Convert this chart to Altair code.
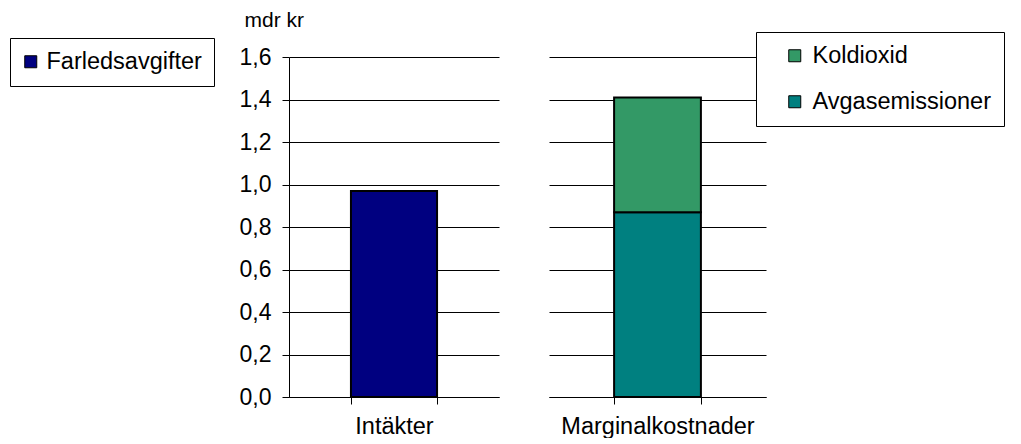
import altair as alt
import pandas as pd

# ---- data ----
left_categories = ["Intäkter"]
left_series = ["Farledsavgifter"]
left_values = [0.97]

right_categories = ["Marginalkostnader", "Marginalkostnader"]
right_series = ["Avgasemissioner", "Koldioxid"]
right_values = [0.87, 0.54]
right_stack_order = [0, 1]
right_legend_order = ["Koldioxid", "Avgasemissioner"]

y_ticks = [0.0, 0.2, 0.4, 0.6, 0.8, 1.0, 1.2, 1.4, 1.6]
y_title = "mdr kr"

colors_left = ["#000080"]
colors_right = ["#339966", "#008080"]

FONT = "Liberation Sans"

left_df = pd.DataFrame({"kategori": left_categories, "serie": left_series, "varde": left_values})
right_df = pd.DataFrame({"kategori": right_categories, "serie": right_series,
                         "varde": right_values, "ordning": right_stack_order})

label_expr = "replace(format(datum.value, '.1f'), '.', ',')"

x_axis = alt.Axis(title=None, labelAngle=0, labelFontSize=23.5, labelFont=FONT, labelColor="black",
                  labelPadding=10, labelLimit=0, tickBand="extent", tickSize=7, tickColor="black",
                  domainColor="black", grid=False)

legend_common = dict(orient="none", title=None, padding=12, strokeColor="black", fillColor="white",
                     symbolType="square", symbolSize=144, symbolStrokeColor="black",
                     symbolStrokeWidth=1, symbolOpacity=1, labelFontSize=23.5, labelFont=FONT,
                     labelColor="black", labelLimit=0)

left = alt.Chart(left_df).mark_bar(stroke="black", strokeWidth=2).encode(
    x=alt.X("kategori:N", scale=alt.Scale(paddingInner=0.59, paddingOuter=0.295), axis=x_axis),
    y=alt.Y("varde:Q", scale=alt.Scale(domain=[0, 1.6], nice=False),
            axis=alt.Axis(values=y_ticks, labelExpr=label_expr, title=y_title, titleAngle=0,
                          titleAlign="left", titleBaseline="alphabetic", titleX=-45, titleY=-31,
                          titleFontSize=21, titleFont=FONT, titleFontWeight="normal",
                          titleColor="black", labelFontSize=23, labelFont=FONT, labelColor="black",
                          labelPadding=11, tickSize=7, tickColor="black", domainColor="black",
                          gridColor="black", gridWidth=1)),
    color=alt.Color("serie:N", scale=alt.Scale(domain=left_series, range=colors_left),
                    legend=alt.Legend(legendX=-279, legendY=-19, symbolOffset=-3, labelOffset=4,
                                      **legend_common)),
).properties(width=210, height=340)

right = alt.Chart(right_df).mark_bar(stroke="black", strokeWidth=2).encode(
    x=alt.X("kategori:N", scale=alt.Scale(paddingInner=0.6, paddingOuter=0.3), axis=x_axis),
    y=alt.Y("varde:Q", stack="zero", scale=alt.Scale(domain=[0, 1.6], nice=False),
            axis=alt.Axis(values=y_ticks, title=None, labels=False, ticks=False, domain=False,
                          gridColor="black", gridWidth=1)),
    order=alt.Order("ordning:Q", sort="ascending"),
    color=alt.Color("serie:N", scale=alt.Scale(domain=right_legend_order, range=colors_right),
                    legend=alt.Legend(legendX=207, legendY=-25, symbolOffset=15, labelOffset=6,
                                      rowPadding=21, **legend_common)),
).properties(width=217, height=340)

chart = alt.hconcat(left, right, spacing=50).resolve_scale(
    color="independent", y="independent", x="independent"
).configure_view(stroke=None).properties(
    padding={"left": 9, "top": 9, "right": 0, "bottom": 0}
)

chart.save("out.html", embed_options={"renderer": "svg", "actions": False})
